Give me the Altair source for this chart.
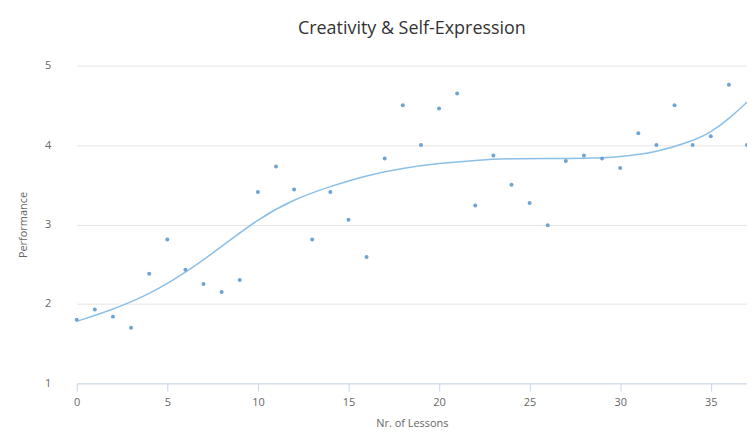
import altair as alt
import pandas as pd

lessons = list(range(38))
performance = [1.80, 1.93, 1.84, 1.70, 2.38, 2.81, 2.43, 2.25, 2.15, 2.30,
               3.41, 3.73, 3.44, 2.81, 3.41, 3.06, 2.59, 3.83, 4.50, 4.00,
               4.46, 4.65, 3.24, 3.87, 3.50, 3.27, 2.99, 3.80, 3.87, 3.83,
               3.71, 4.15, 4.00, 4.50, 4.00, 4.11, 4.76, 4.00]

trend_x = [0, 2, 4, 6, 8, 10, 12, 14, 16, 18, 20, 22, 24, 26, 28, 30, 32, 34, 35, 36, 37]
trend_y = [1.78, 1.93, 2.12, 2.39, 2.72, 3.07, 3.32, 3.48, 3.62, 3.71, 3.77, 3.81,
           3.83, 3.83, 3.83, 3.85, 3.91, 4.05, 4.16, 4.33, 4.54]

pts = pd.DataFrame({"lessons": lessons, "performance": performance})
trend = pd.DataFrame({"lessons": trend_x, "performance": trend_y})

FONT = "Open Sans"
xscale = alt.Scale(domain=[0, 37], nice=False, zero=False)
yscale = alt.Scale(domain=[1, 5], nice=False, zero=False)

xaxis = alt.Axis(title="Nr. of Lessons", values=[0, 5, 10, 15, 20, 25, 30, 35],
                 format="d", grid=False, domain=True, domainColor="#ccd6eb", tickColor="#ccd6eb",
                 ticks=True, tickSize=8, labelColor="#666666", labelFontSize=11,
                 labelFlush=False,
                 labelFont=FONT, titleFont=FONT, titleColor="#666666", titleFontSize=11,
                 titleFontWeight="normal", labelPadding=5, titlePadding=10)
yaxis = alt.Axis(title="Performance", values=[1, 2, 3, 4, 5], format="d", grid=True,
                 gridColor="#e6e6e6", domain=False, ticks=False, labelFlush=False,
                 labelColor="#666666", labelFontSize=11, labelFont=FONT,
                 titleFont=FONT, titleColor="#666666", titleFontSize=11,
                 titleFontWeight="normal", labelPadding=26, titlePadding=16)

line = alt.Chart(trend).mark_line(color="#8cbfe6", strokeWidth=1.5, interpolate="basis").encode(
    x=alt.X("lessons:Q", scale=xscale, axis=xaxis),
    y=alt.Y("performance:Q", scale=yscale, axis=yaxis),
)
points = alt.Chart(pts).mark_point(filled=True, shape="circle", size=16, color="#6fa3d0", opacity=1).encode(
    x=alt.X("lessons:Q", scale=xscale),
    y=alt.Y("performance:Q", scale=yscale),
)

chart = alt.layer(line, points).properties(
    width=673, height=319,
    title=alt.TitleParams("Creativity & Self-Expression", font=FONT, fontSize=18,
                          fontWeight="normal", color="#333333", anchor="middle", offset=22),
    autosize=alt.AutoSizeParams(type="none"),
    padding={"left": 69, "top": 57, "right": 0, "bottom": 52},
).configure_view(stroke=None)

chart.save("out.html", embed_options={"renderer": "svg", "actions": False})
